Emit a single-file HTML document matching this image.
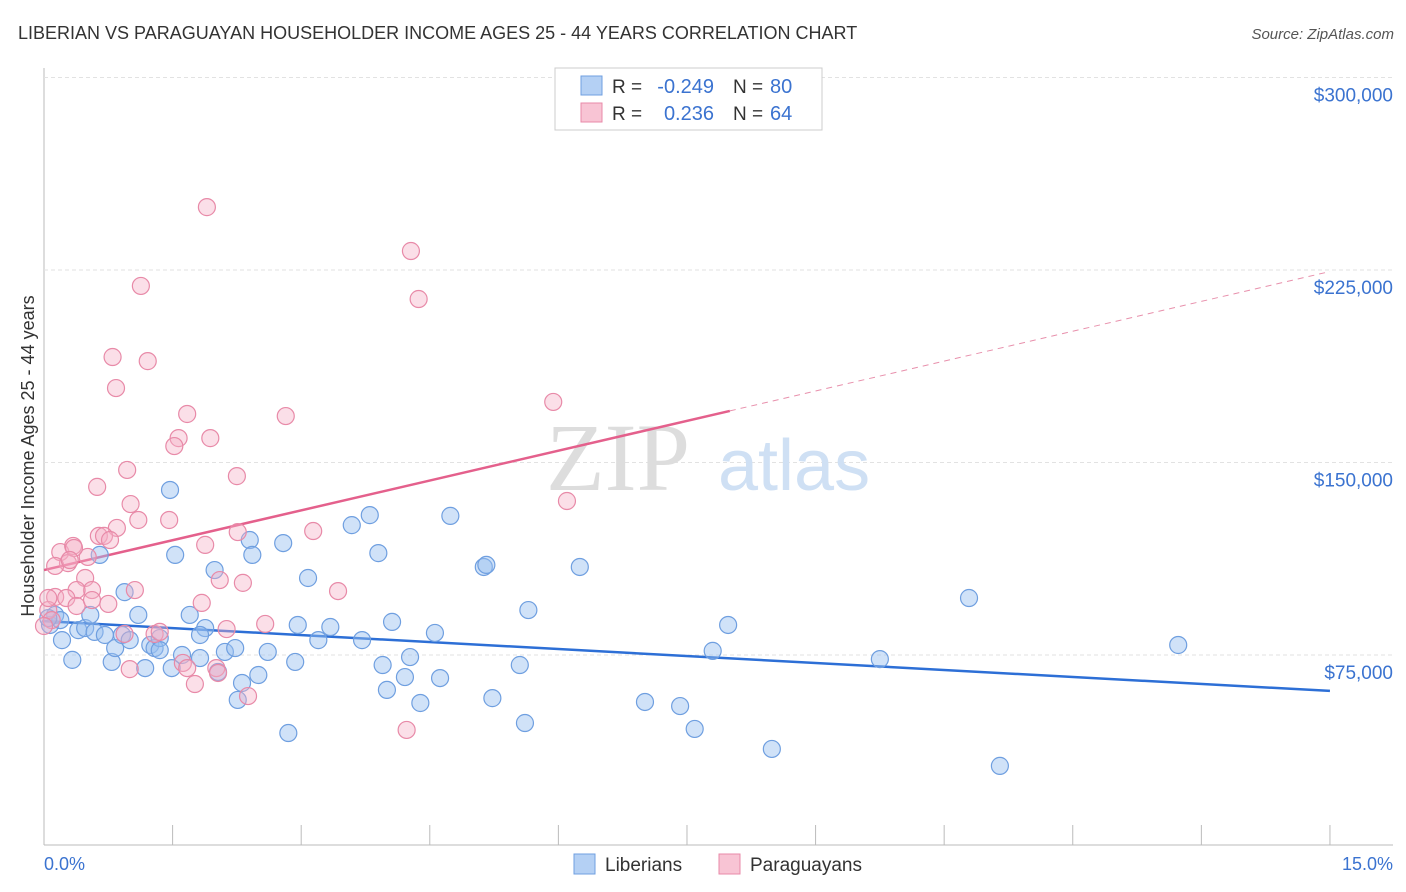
<!DOCTYPE html>
<html><head><meta charset="utf-8">
<style>
body{margin:0;background:#fff;font-family:"Liberation Sans",sans-serif;}
#wrap{position:relative;width:1406px;height:892px;overflow:hidden;}
</style></head>
<body><div id="wrap">
<svg id="chart" width="1406" height="892" xmlns="http://www.w3.org/2000/svg">
<text x="18" y="39" font-size="18" fill="#333">LIBERIAN VS PARAGUAYAN HOUSEHOLDER INCOME AGES 25 - 44 YEARS CORRELATION CHART</text>
<text x="1394" y="39" font-size="15" fill="#555" text-anchor="end" font-style="italic">Source: ZipAtlas.com</text>
<g id="grid"></g>
<text x="690" y="490" font-size="96" fill="#ddd" text-anchor="end" font-family="Liberation Serif,serif">ZIP</text>
<text x="718" y="490" font-size="72" fill="#cfe0f4">atlas</text>
<g id="trends"></g>
<g id="points"></g>
<text transform="translate(34,456) rotate(-90)" font-size="18" fill="#333" text-anchor="middle">Householder Income Ages 25 - 44 years</text>
<text x="44" y="870" font-size="18" fill="#3b73d0">0.0%</text>
<text x="1393" y="870" font-size="18" fill="#3b73d0" text-anchor="end">15.0%</text>
<g>
<rect x="555" y="68" width="267" height="62" fill="#fff" stroke="#ccc"/>
<rect x="581" y="76" width="21" height="19" fill="#b4d0f4" stroke="#6f9fe0"/>
<rect x="581" y="103" width="21" height="19" fill="#f8c4d4" stroke="#e88aa8"/>
<text x="612" y="93" font-size="19" fill="#333">R =</text>
<text x="714" y="93" font-size="20" fill="#3b73d0" text-anchor="end">-0.249</text>
<text x="733" y="93" font-size="19" fill="#333">N =</text>
<text x="770" y="93" font-size="20" fill="#3b73d0">80</text>
<text x="612" y="120" font-size="19" fill="#333">R =</text>
<text x="714" y="120" font-size="20" fill="#3b73d0" text-anchor="end">0.236</text>
<text x="733" y="120" font-size="19" fill="#333">N =</text>
<text x="770" y="120" font-size="20" fill="#3b73d0">64</text>
</g>
<g>
<rect x="574" y="854" width="21" height="20" fill="#b4d0f4" stroke="#6f9fe0"/>
<text x="605" y="871" font-size="19" fill="#333">Liberians</text>
<rect x="719" y="854" width="21" height="20" fill="#f8c4d4" stroke="#e88aa8"/>
<text x="750" y="871" font-size="19" fill="#333">Paraguayans</text>
</g>
</svg></div>
<script>
const yTicks=[75000,150000,225000,300000];
const yTickLabels=["$75,000","$150,000","$225,000","$300,000"];
const xTicks=[0,1.5,3,4.5,6,7.5,9,10.5,12,13.5,15];
const blueX=[.07,.13,.21,.33,.40,.48,.54,.59,.65,.71,.79,.83,.91,.94,1.00,1.10,1.18,1.24,1.29,1.35,1.47,1.53,1.49,1.61,1.70,1.82,1.88,1.99,2.03,2.11,2.23,2.26,2.31,2.40,2.43,2.50,2.61,2.79,2.85,2.93,2.96,3.08,3.20,3.34,3.59,3.71,3.80,3.90,3.95,4.00,4.06,4.21,4.27,4.39,4.56,4.62,4.74,5.13,5.16,5.23,5.55,5.61,5.65,6.25,7.01,7.42,7.59,7.80,7.98,8.49,9.75,10.79,11.15,13.23,.19,.05,1.35,1.82];
const blueY=[86.7,90.6,80.8,73.1,84.7,85.5,90.6,84.0,114.0,82.8,72.3,77.7,82.8,99.5,80.8,90.6,69.9,78.9,77.7,81.6,139.3,114.0,69.9,75.0,90.6,73.8,85.5,108.1,68.4,76.2,77.7,57.5,64.1,119.8,114.0,67.2,76.2,118.6,44.6,72.3,86.7,105.0,80.8,85.9,125.6,80.8,129.5,114.7,71.1,61.4,87.9,66.4,74.2,56.3,83.6,66.0,129.2,109.3,110.1,58.2,71.1,48.5,92.5,109.3,56.7,55.1,46.2,76.6,86.7,38.4,73.4,97.2,31.8,78.9,88.6,89.4,76.9,82.8];
const pinkX=[1.90,4.28,4.37,1.13,.80,1.21,.84,1.67,2.82,1.57,1.94,1.52,.97,2.25,.62,1.01,5.94,6.10,1.10,1.46,.85,.64,2.26,3.14,.70,1.88,.19,.34,.51,.28,.13,.35,.48,.56,.38,.75,1.06,2.05,2.32,3.43,.13,.26,.38,1.84,.05,.09,.00,2.13,2.58,.94,1.29,1.35,1.62,1.67,2.01,2.03,1.00,1.76,2.38,4.23,.05,.56,.77,.30];
const pinkY=[249.5,232.4,213.7,218.8,191.1,189.5,179.0,168.9,168.1,159.5,159.5,156.4,147.1,144.7,140.5,133.8,173.6,135.0,127.6,127.6,124.5,121.4,122.9,123.3,121.4,117.9,115.1,117.5,113.2,110.8,109.7,116.7,105.0,100.3,100.3,94.9,100.3,104.2,103.1,99.9,97.6,97.2,94.1,95.3,92.5,88.6,86.3,85.1,87.1,83.2,83.2,84.0,71.9,69.9,69.9,68.0,69.5,63.7,59.0,45.8,97.2,96.4,119.8,112.0];
const blueTrendX=[0,15];
const blueTrendY=[88.2,61.0];
const pinkTrendX=[0,8,15];
const pinkTrendY=[108.1,170.1,224.4];

const NS="http://www.w3.org/2000/svg";
const xs=p=>44+p*85.73;
const ys=v=>655-(v-75000)/75000*192.5;
const ysk=k=>ys(k*1000);
function mk(tag,attrs,parent){const e=document.createElementNS(NS,tag);for(const k in attrs)e.setAttribute(k,attrs[k]);parent.appendChild(e);return e;}
const grid=document.getElementById('grid');
let ax=mk('line',{x1:44,y1:68,x2:44,y2:845,stroke:'#bbb'},grid);


let bx=mk('line',{x1:44,y1:845,x2:1393,y2:845,stroke:'#bbb'},grid);


yTicks.forEach((t,i)=>{
 const g=mk('line',{x1:44,y1:ys(t),x2:1393,y2:ys(t),stroke:'#e2e2e2','stroke-dasharray':'4,3'},grid);
 
 
 const tx=mk('text',{x:1393,y:ys(t)+24,'font-size':19,fill:'#3b73d0','text-anchor':'end'},grid);
 tx.textContent=yTickLabels[i];
 
 
});
xTicks.forEach(t=>{
 const l=mk('line',{x1:xs(t),y1:825,x2:xs(t),y2:845,stroke:'#bbb'},grid);
 
 
});
const pts=document.getElementById('points');
blueX.forEach((x,i)=>{
 const c=mk('circle',{cx:xs(x),cy:ysk(blueY[i]),r:8.5,fill:'rgba(150,190,240,0.45)',stroke:'#6f9fe0','stroke-width':1.2},pts);
 
 
});
pinkX.forEach((x,i)=>{
 const c=mk('circle',{cx:xs(x),cy:ysk(pinkY[i]),r:8.5,fill:'rgba(245,175,198,0.4)',stroke:'#e88aa8','stroke-width':1.2},pts);
 
 
});
const tr=document.getElementById('trends');
const bl=mk('line',{x1:xs(blueTrendX[0]),y1:ysk(blueTrendY[0]),x2:xs(blueTrendX[1]),y2:ysk(blueTrendY[1]),stroke:'#2d6fd6','stroke-width':2.5},tr);


const pl=mk('line',{x1:xs(pinkTrendX[0]),y1:ysk(pinkTrendY[0]),x2:xs(pinkTrendX[1]),y2:ysk(pinkTrendY[1]),stroke:'#e4608c','stroke-width':2.5},tr);


const pd=mk('line',{x1:xs(pinkTrendX[1]),y1:ysk(pinkTrendY[1]),x2:xs(pinkTrendX[2]),y2:ysk(pinkTrendY[2]),stroke:'#e890ac','stroke-width':1,'stroke-dasharray':'6,5'},tr);


</script>
</body></html>
